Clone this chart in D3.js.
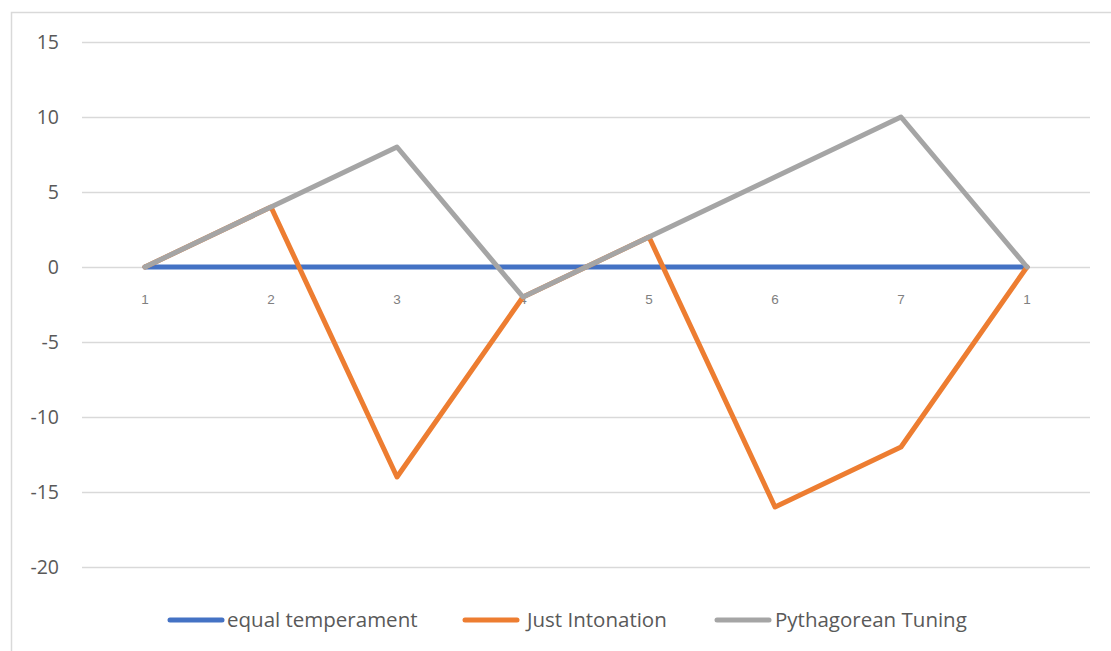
<!DOCTYPE html>
<html>
<head>
<meta charset="utf-8">
<title>Tuning chart</title>
<script src="https://d3js.org/d3.v7.min.js"></script>
<style>
  body { margin: 0; background: #fff; }
  svg { display: block; }
</style>
</head>
<body>
<script>
// data
var categories = ["1", "2", "3", "4", "5", "6", "7", "1"];
var equalTemperament = [0, 0, 0, 0, 0, 0, 0, 0];
var justIntonation = [0, 4, -14, -2, 2, -16, -12, 0];
var pythagorean = [0, 4, 8, -2, 2, 6, 10, 0];
var yTicks = [15, 10, 5, 0, -5, -10, -15, -20];

var series = [
  { name: "equal temperament", values: equalTemperament, color: "#4472C4" },
  { name: "Just Intonation", values: justIntonation, color: "#ED7D31" },
  { name: "Pythagorean Tuning", values: pythagorean, color: "#A5A5A5" }
];

var W = 1111, H = 651;
var svg = d3.select("body").append("svg")
    .attr("width", W).attr("height", H);

// chart frame
svg.append("path")
    .attr("d", "M11.5," + H + "V12.5H" + W)
    .attr("fill", "none")
    .attr("stroke", "#d9d9d9")
    .attr("stroke-width", 1.5);

var x = d3.scaleBand()
    .domain(d3.range(categories.length))
    .range([82, 1090]);

var y = d3.scaleLinear()
    .domain([-20, 15])
    .range([567, 42]);

// gridlines
svg.append("g").selectAll("line")
    .data(yTicks)
    .enter().append("line")
    .attr("x1", 82).attr("x2", 1090)
    .attr("y1", d => y(d) + 0.5).attr("y2", d => y(d) + 0.5)
    .attr("stroke", "#d9d9d9")
    .attr("stroke-width", 1.3);

// y labels
svg.append("g").selectAll("text")
    .data(yTicks)
    .enter().append("text")
    .attr("x", 59)
    .attr("y", d => y(d))
    .attr("dy", "0.35em")
    .attr("text-anchor", "end")
    .attr("font-family", "Open Sans, sans-serif")
    .attr("font-size", 19.5)
    .attr("fill", "#595959")
    .text(d => d);

// category labels along the 0 line
svg.append("g").selectAll("text")
    .data(categories)
    .enter().append("text")
    .attr("x", (d, i) => x(i) + x.bandwidth() / 2)
    .attr("y", y(0) + 37)
    .attr("text-anchor", "middle")
    .attr("font-family", "Liberation Sans, Arial, sans-serif")
    .attr("font-size", 13.5)
    .attr("fill", "#808080")
    .text(d => d);

var line = d3.line()
    .x((d, i) => x(i) + x.bandwidth() / 2)
    .y(d => y(d));

svg.append("g").selectAll("path")
    .data(series)
    .enter().append("path")
    .attr("d", d => line(d.values))
    .attr("fill", "none")
    .attr("stroke", d => d.color)
    .attr("stroke-width", 5)
    .attr("stroke-linejoin", "round")
    .attr("stroke-linecap", "round");

// legend
var legendX = [168, 463, 715];
var textGap = [59, 64, 60];
var legend = svg.append("g").selectAll("g")
    .data(series)
    .enter().append("g")
    .attr("transform", (d, i) => "translate(" + legendX[i] + ",620)");

legend.append("line")
    .attr("x1", 2).attr("x2", 54)
    .attr("stroke", d => d.color)
    .attr("stroke-width", 5)
    .attr("stroke-linecap", "round");

legend.append("text")
    .attr("x", (d, i) => textGap[i])
    .attr("dy", "0.35em")
    .attr("font-family", "Open Sans, sans-serif")
    .attr("font-size", 20.5)
    .attr("fill", "#595959")
    .text(d => d.name);
</script>
</body>
</html>
